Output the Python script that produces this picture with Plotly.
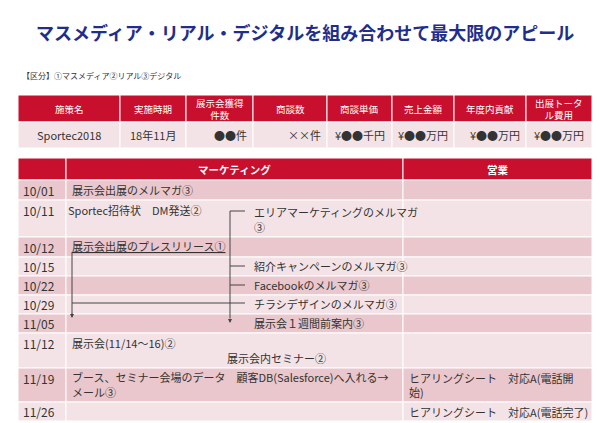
import plotly.graph_objects as go

# slide content
title = "マスメディア・リアル・デジタルを組み合わせて最大限のアピール"
legend_note = "【区分】①マスメディア②リアル③デジタル"

top_headers = ["施策名", "実施時期", "展示会獲得<br>件数", "商談数", "商談単価", "売上金額", "年度内貢献", "出展トータ<br>ル費用"]
top_values = ["Sportec2018", "18年11月", "●●件", "××件", "¥●●千円", "¥●●万円", "¥●●万円", "¥●●万円"]
top_cols = [18, 120, 186, 253, 327, 392, 454, 526, 592]
top_align = ["center", "center", "right", "right", "center", "center", "right", "center"]

dates = ["10/01", "10/11", "10/12", "10/15", "10/22", "10/29", "11/05", "11/12", "11/19", "11/26"]
row_edges = [180, 200, 237, 257, 276, 295, 314, 333, 368, 402, 421]
sales_text = ["", "", "", "", "", "", "", "", "ヒアリングシート　対応A(電話開<br>始)", "ヒアリングシート　対応A(電話完了)"]

# (text, x, y) inside the marketing column
marketing_items = [
    ("展示会出展のメルマガ③", 70, 190),
    ("Sportec招待状　DM発送②", 66, 210),
    ("エリアマーケティングのメルマガ", 252, 212),
    ("③", 252, 227),
    ("<u>展示会出展のプレスリリース①</u>", 70, 246),
    ("紹介キャンペーンのメルマガ③", 252, 266),
    ("Facebookのメルマガ③", 252, 285),
    ("チラシデザインのメルマガ③", 252, 304),
    ("展示会１週間前案内③", 252, 323),
    ("展示会(11/14～16)②", 70, 343),
    ("展示会内セミナー②", 225, 358),
    ("ブース、セミナー会場のデータ　顧客DB(Salesforce)へ入れる→", 70, 377),
    ("メール③", 70, 392),
]

RED = "#c8102e"
DARK = "#e9c7cc"
LIGHT = "#f4e3e6"
FONT = "Noto Sans CJK JP"

fig = go.Figure()
shapes = []
ann = []

def rect(x0, y0, x1, y1, color):
    shapes.append(dict(type="rect", x0=x0, y0=y0, x1=x1, y1=y1, fillcolor=color,
                       line=dict(color="white", width=1), layer="below"))

def text(t, x, y, size=11, color="#333333", anchor="left", bold=False, lh=None):
    if bold:
        t = "<b>" + t + "</b>"
    ann.append(dict(text=t, x=x, y=y, xanchor=anchor, yanchor="middle", showarrow=False,
                    align=anchor, font=dict(size=size, color=color, family=FONT)))

text(title, 305, 32, size=18, color="#1f2d8c", anchor="center", bold=True)
text(legend_note, 20, 75, size=8)

# top table
for i in range(len(top_headers)):
    x0, x1 = top_cols[i], top_cols[i + 1]
    rect(x0, 95, x1, 122, RED)
    rect(x0, 122, x1, 148, LIGHT)
    text(top_headers[i], (x0 + x1) / 2, 108.5, size=9.5, color="white", anchor="center")
    if top_align[i] == "right":
        text(top_values[i], x1 - 4, 135, anchor="right")
    else:
        text(top_values[i], (x0 + x1) / 2, 135, anchor="center")

# main table
c0, c1, c2, c3 = 18, 66, 403, 592
rect(c0, 158, c1, 180, RED)
rect(c1, 158, c2, 180, RED)
rect(c2, 158, c3, 180, RED)
text("マーケティング", (c1 + c2) / 2, 169, size=10.5, color="white", anchor="center", bold=True)
text("営業", (c2 + c3) / 2, 169, size=10.5, color="white", anchor="center", bold=True)

for i, d in enumerate(dates):
    y0, y1 = row_edges[i], row_edges[i + 1]
    col = DARK if i % 2 == 0 else LIGHT
    for a, b in [(c0, c1), (c1, c2), (c2, c3)]:
        rect(a, y0, b, y1, col)
    ty = y0 + 10 if (y1 - y0) > 25 else (y0 + y1) / 2
    text(d, 21, ty, size=12)
    if sales_text[i]:
        text(sales_text[i], 407, (y0 + y1) / 2, size=11)

for t, x, y in marketing_items:
    text(t, x, y)

# connector lines
line = dict(color="#444444", width=1)
shapes.append(dict(type="line", x0=230, y0=211, x1=230, y1=318, line=line))
for yy in [211, 266, 285, 303]:
    shapes.append(dict(type="line", x0=230, y0=yy, x1=245, y1=yy, line=line))
shapes.append(dict(type="line", x0=72, y0=252, x1=72, y1=314, line=line))
shapes.append(dict(type="line", x0=72, y0=303, x1=230, y1=303, line=line))
for xx, yy in [(230, 323), (72, 318)]:
    ann.append(dict(x=xx, y=yy, ax=xx, ay=yy - 6, xref="x", yref="y", axref="x", ayref="y",
                    text="", showarrow=True, arrowhead=2, arrowsize=0.8, arrowwidth=1,
                    arrowcolor="#444444"))

fig.update_layout(
    width=600, height=423, margin=dict(l=0, r=0, t=0, b=0),
    plot_bgcolor="white", paper_bgcolor="white",
    xaxis=dict(range=[0, 600], visible=False, fixedrange=True),
    yaxis=dict(range=[423, 0], visible=False, fixedrange=True),
    shapes=shapes, annotations=ann, showlegend=False,
)
fig.write_html("out.html", config={"displayModeBar": False},
               post_script="document.body.style.margin='0';")
